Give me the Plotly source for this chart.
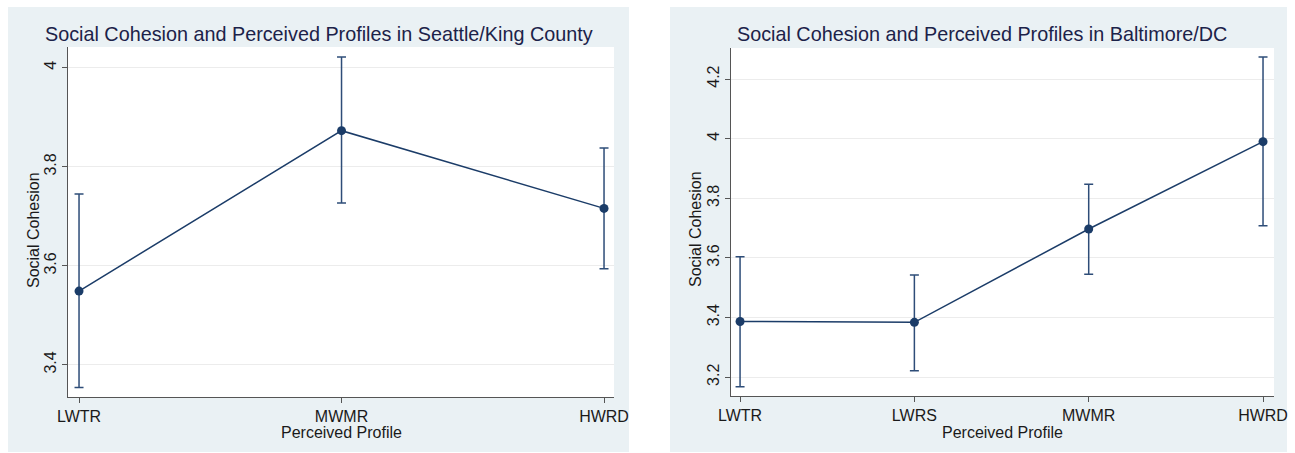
import plotly.graph_objects as go

# ---- data ----
seattle_profiles = ["LWTR", "MWMR", "HWRD"]
seattle_mean = [3.549, 3.873, 3.716]
seattle_upper = [3.745, 4.022, 3.838]
seattle_lower = [3.354, 3.727, 3.594]

balt_profiles = ["LWTR", "LWRS", "MWMR", "HWRD"]
balt_mean = [3.387, 3.384, 3.697, 3.990]
balt_upper = [3.604, 3.543, 3.847, 4.274]
balt_lower = [3.168, 3.222, 3.545, 3.708]

seattle_yticks = [3.4, 3.6, 3.8, 4.0]
seattle_yticktext = ["3.4", "3.6", "3.8", "4"]
balt_yticks = [3.2, 3.4, 3.6, 3.8, 4.0, 4.2]
balt_yticktext = ["3.2", "3.4", "3.6", "3.8", "4", "4.2"]

titles = ["Social Cohesion and Perceived Profiles in Seattle/King County",
          "Social Cohesion and Perceived Profiles in Baltimore/DC"]
x_title = "Perceived Profile"
y_title = "Social Cohesion"

W, H = 1295, 453
FONT = "Liberation Sans, Arial, Helvetica, sans-serif"
NAVY = "#1b3c68"
ERR = "#2e4d78"
BG = "#eaf1f4"

def px(x):
    return x / W

def py(y):
    return 1 - y / H

fig = go.Figure()

def add_series(cats, mean, up, lo, xa, ya):
    fig.add_trace(go.Scatter(
        x=cats, y=mean, xaxis=xa, yaxis=ya,
        mode="lines+markers",
        line=dict(color=NAVY, width=1.5),
        marker=dict(color=NAVY, size=9),
        error_y=dict(type="data", symmetric=False,
                     array=[u - m for u, m in zip(up, mean)],
                     arrayminus=[m - l for m, l in zip(mean, lo)],
                     color=ERR, thickness=1.5, width=4.5),
        showlegend=False,
    ))

add_series(seattle_profiles, seattle_mean, seattle_upper, seattle_lower, "x", "y")
add_series(balt_profiles, balt_mean, balt_upper, balt_lower, "x2", "y2")

axis_common = dict(showline=True, linecolor="#555555", linewidth=1,
                   ticks="outside", ticklen=5, tickcolor="#555555",
                   tickfont=dict(family=FONT, size=16, color="#1a1a1a"),
                   zeroline=False, automargin=False)

PLOTS = [(68, 614, 47, 397), (731, 1274, 48, 396)]

fig.update_layout(
    template="none",
    width=W, height=H,
    margin=dict(l=0, r=0, t=0, b=0),
    paper_bgcolor="white", plot_bgcolor="white",
    xaxis=dict(domain=[px(68), px(614)], anchor="y", type="category",
               range=[-0.042, 2.038], showgrid=False, **axis_common),
    yaxis=dict(domain=[py(397), py(47)], anchor="x",
               range=[3.335, 4.042], tickvals=seattle_yticks, ticktext=seattle_yticktext,
               tickangle=-90, showgrid=True, gridcolor="#ececec", gridwidth=1,
               **axis_common),
    xaxis2=dict(domain=[px(731), px(1274)], anchor="y2", type="category",
                range=[-0.052, 3.063], showgrid=False, **axis_common),
    yaxis2=dict(domain=[py(396), py(48)], anchor="x2",
                range=[3.137, 4.304], tickvals=balt_yticks, ticktext=balt_yticktext,
                tickangle=-90, showgrid=True, gridcolor="#ececec", gridwidth=1,
                **axis_common),
)

# panel backgrounds
for x0, x1 in [(8, 629), (670, 1287)]:
    fig.add_shape(type="rect", xref="paper", yref="paper",
                  x0=px(x0), x1=px(x1), y0=py(452), y1=py(7),
                  fillcolor=BG, line=dict(width=0), layer="below")
# white plot regions
for x0, x1, y0, y1 in PLOTS:
    fig.add_shape(type="rect", xref="paper", yref="paper",
                  x0=px(x0), x1=px(x1), y0=py(y1), y1=py(y0),
                  fillcolor="white", line=dict(width=0), layer="below")

ann = []
# titles
for t, x in zip(titles, [43, 735]):
    ann.append(dict(text=t, xref="paper", yref="paper", x=px(x), y=py(34),
                    xanchor="left", yanchor="middle", showarrow=False,
                    font=dict(family=FONT, size=19.8, color="#1c2249")))
# x titles
for xc in [(68 + 614) / 2, (731 + 1274) / 2]:
    ann.append(dict(text=x_title, xref="paper", yref="paper", x=px(xc), y=py(432),
                    xanchor="center", yanchor="middle", showarrow=False,
                    font=dict(family=FONT, size=16, color="#1a1a1a")))
# y titles
for xc, yc in [(33, 230), (695, 229)]:
    ann.append(dict(text=y_title, xref="paper", yref="paper", x=px(xc), y=py(yc),
                    xanchor="center", yanchor="middle", showarrow=False, textangle=-90,
                    font=dict(family=FONT, size=16, color="#1a1a1a")))
fig.update_layout(annotations=ann)

fig.write_html("out.html",
               config={"displayModeBar": False},
               post_script="document.body.style.margin='0px';document.body.style.overflow='hidden';")
